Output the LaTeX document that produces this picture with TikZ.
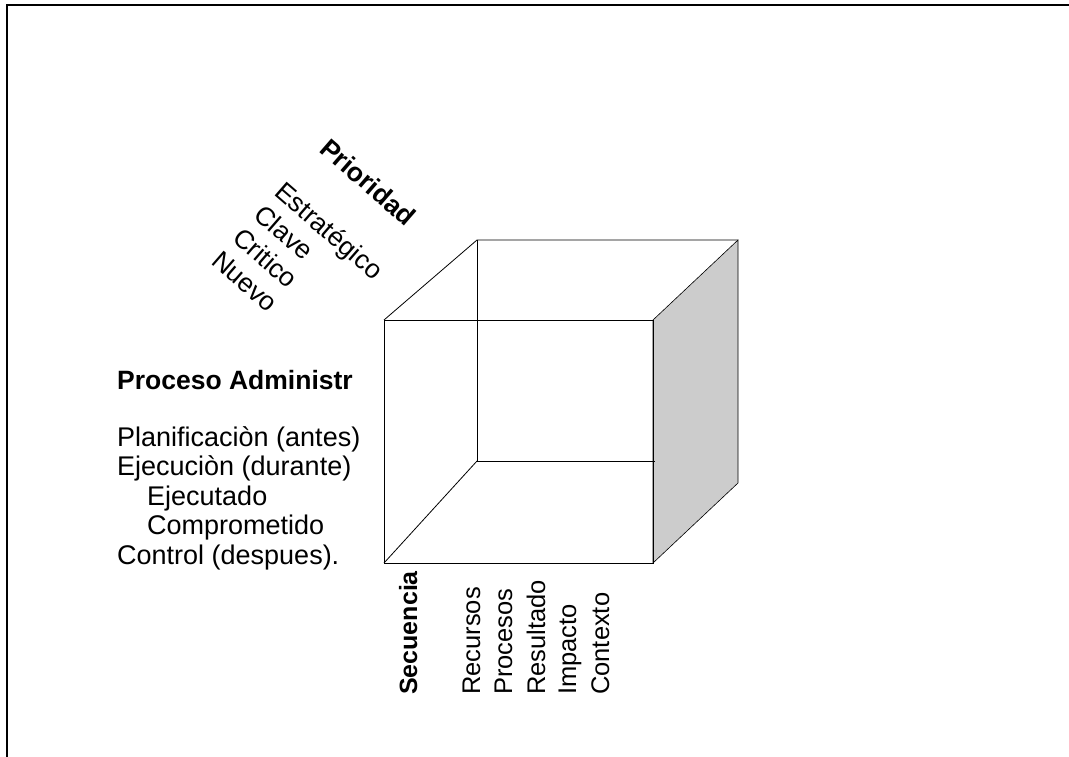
\documentclass[tikz,border=0pt]{standalone}
\usepackage{fontspec}
\setmainfont{Liberation Sans}
\definecolor{FaceGray}{RGB}{204, 204, 204}
\usepackage{tikz}
\usetikzlibrary{positioning, calc}

\tikzset{
  edge/.style={line width=0.8pt, black},
  lbl/.style={inner sep=0pt, anchor=base west, font=\fontsize{27}{29}\selectfont},
  lblb/.style={lbl, font=\fontsize{26.5}{29}\selectfont\bfseries},
  axlbl/.style={inner sep=0pt, anchor=base west, rotate=90, font=\fontsize{25.5}{28}\selectfont},
  diaglbl/.style={inner sep=0pt, anchor=base west, rotate=-41, font=\fontsize{26.5}{28}\selectfont}
}

\begin{document}
\begin{tikzpicture}[x=1pt, y=-1pt]
\useasboundingbox (0,0) rectangle (1069,757);
\draw[line width=2pt] (7,757) -- (7,5) -- (1069,5);
% cube corners
\coordinate (A) at (384,320);
\coordinate (B) at (653,320);
\coordinate (C) at (653,563);
\coordinate (D) at (384,563);
\coordinate (E) at (477,240);
\coordinate (F) at (738,240);
\coordinate (G) at (738,483);
\coordinate (H) at (477,461);
\coordinate (Hr) at (655,461);
\filldraw[FaceGray, draw=black, line width=0.6pt] (B) -- (F) -- (G) -- (C) -- cycle;
\draw[edge] (A) -- (B) -- (C) -- (D) -- cycle;
\draw[edge] (A) -- (E) -- (F);
\draw[edge] (E) -- (H) -- (Hr);
\draw[edge] (D) -- (H);
% Prioridad
\node[diaglbl, font=\fontsize{26.5}{28}\selectfont\bfseries] (prio) at (318,151) {Prioridad};
\node[diaglbl] (estr) at (273,194) {Estrat\'egico};
\node[diaglbl] (clave) at (252,217) {Clave};
\node[diaglbl] (crit) at (231,240) {Critico};
\node[diaglbl] (nuevo) at (210,263) {Nuevo};
% Proceso administrativo
\node[lblb] (proc) at (117,389) {Proceso Administr};
\node[lbl] (plan) at (117,446) {Planificaci\`on (antes)};
\node[lbl] (ejec) at (117,475.5) {Ejecuci\`on (durante)};
\node[lbl] (ejdo) at (147,505) {Ejecutado};
\node[lbl] (comp) at (147,534.5) {Comprometido};
\node[lbl] (ctrl) at (117,564) {Control (despues).};
% Secuencia
\node[axlbl, font=\fontsize{25}{28}\selectfont\bfseries] (sec) at (417,695) {Secuencia};
\node[axlbl] (rec) at (480,695) {Recursos};
\node[axlbl] (pro) at (512,695) {Procesos};
\node[axlbl] (res) at (545,695) {Resultado};
\node[axlbl] (imp) at (576,695) {Impacto};
\node[axlbl] (con) at (609,695) {Contexto};
\end{tikzpicture}
\end{document}
